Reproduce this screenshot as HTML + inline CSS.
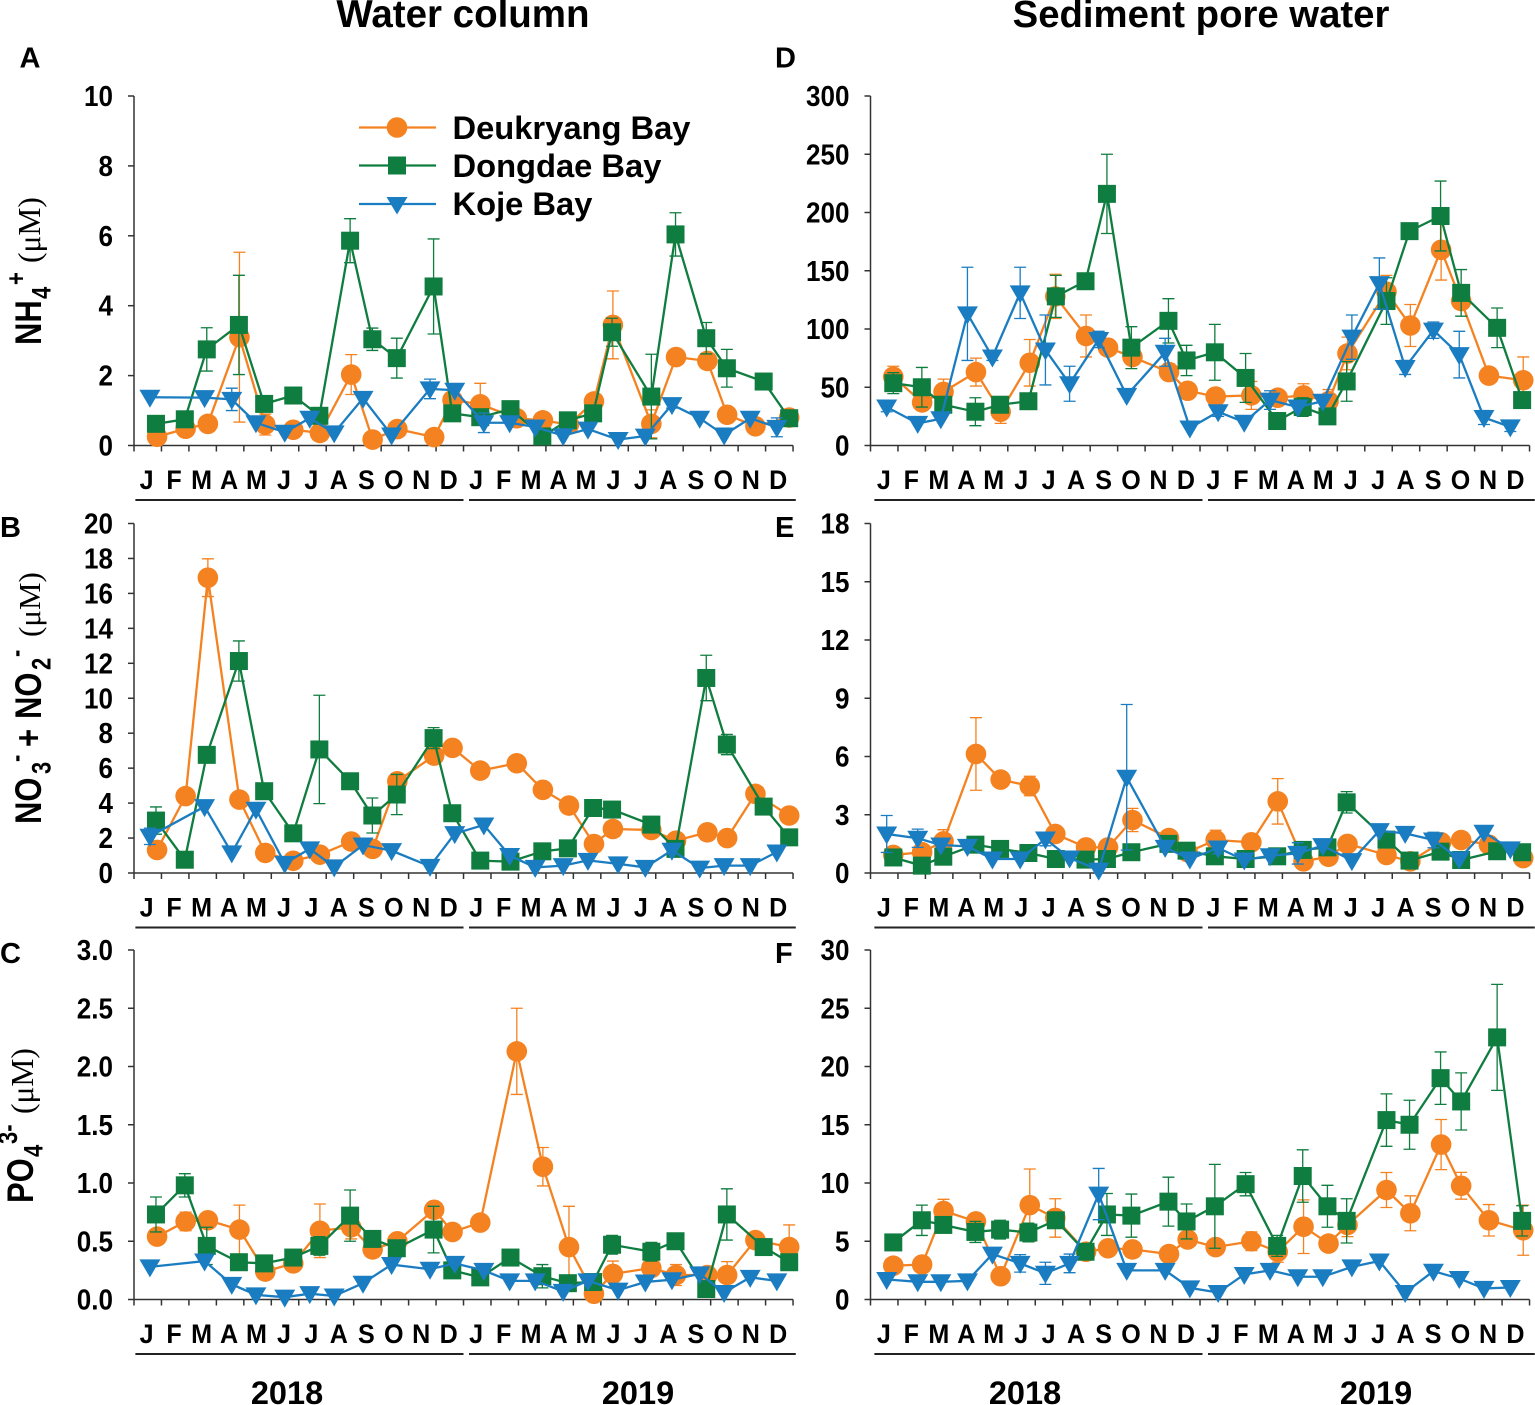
<!DOCTYPE html>
<html lang="en">
<head>
<meta charset="utf-8">
<title>Nutrient concentrations in water column and sediment pore water</title>
<style>
html,body{margin:0;padding:0;background:#fff;}
svg{display:block;font-family:"Liberation Sans",sans-serif;}
.b{font-weight:bold;fill:#000;}
.s{font-family:"Liberation Serif",serif;font-weight:normal;fill:#000;}
</style>
</head>
<body>
<svg id="figure" xmlns="http://www.w3.org/2000/svg" width="1535" height="1405" viewBox="0 0 1535 1405">
  <rect width="1535" height="1405" fill="#fff"/>
  <text class="b" x="463" y="27" font-size="38.500" text-anchor="middle">Water column</text>
  <text class="b" x="1201" y="27" font-size="38.300" text-anchor="middle">Sediment pore water</text>

  <text class="b" x="19.500" y="67.500" font-size="29">A</text>
  <text class="b" x="0" y="537" font-size="29">B</text>
  <text class="b" x="0" y="963" font-size="29">C</text>
  <text class="b" x="775" y="67.500" font-size="29">D</text>
  <text class="b" x="775" y="537" font-size="29">E</text>
  <text class="b" x="775" y="963" font-size="29">F</text>

  <g>
    <text transform="translate(41,345) rotate(-90) scale(1,1.2)" class="b" font-size="31"><tspan>NH</tspan><tspan x="46" y="8" font-size="22">4</tspan><tspan x="60" y="-13.500" font-size="22">+</tspan></text>
    <text transform="translate(40,263) rotate(-90)" class="s" font-size="31.500">(μM)</text>
  </g>
  <g>
    <text transform="translate(41,824) rotate(-90) scale(1,1.2)" class="b" font-size="31"><tspan>NO</tspan><tspan x="50" y="8" font-size="22">3</tspan><tspan x="62" y="-13.500" font-size="22">-</tspan><tspan x="77" y="0">+</tspan><tspan x="105" y="0">NO</tspan><tspan x="154" y="8" font-size="22">2</tspan><tspan x="167" y="-13.500" font-size="22">-</tspan></text>
    <text transform="translate(40,637) rotate(-90)" class="s" font-size="31">(μM)</text>
  </g>
  <g>
    <text transform="translate(33,1203) rotate(-90) scale(1,1.2)" class="b" font-size="31"><tspan>PO</tspan><tspan x="46" y="8" font-size="22">4</tspan><tspan x="59" y="-13.500" font-size="22">3-</tspan></text>
    <text transform="translate(33,1114) rotate(-90)" class="s" font-size="31.500">(μM)</text>
  </g>

  <text class="b" x="287" y="1404" font-size="32.500" text-anchor="middle">2018</text>
  <text class="b" x="638" y="1404" font-size="32.500" text-anchor="middle">2019</text>
  <text class="b" x="1025" y="1404" font-size="32.500" text-anchor="middle">2018</text>
  <text class="b" x="1376" y="1404" font-size="32.500" text-anchor="middle">2019</text>

  <g id="panels"></g>

  <g>
    <g>
      <line x1="359" x2="436" y1="127.500" y2="127.500" stroke="#F58220" stroke-width="2.2"/>
      <circle cx="397" cy="127.500" r="10.300" fill="#F58220"/>
      <text class="b" x="452.500" y="139" font-size="32.700">Deukryang Bay</text>
    </g>
    <g>
      <line x1="359" x2="436" y1="165.500" y2="165.500" stroke="#0F7D3F" stroke-width="2.2"/>
      <rect x="388" y="156.500" width="18" height="18" fill="#0F7D3F"/>
      <text class="b" x="452.500" y="177" font-size="32.700">Dongdae Bay</text>
    </g>
    <g>
      <line x1="359" x2="436" y1="204" y2="204" stroke="#1B7DC1" stroke-width="2.2"/>
      <polygon points="386.500,197 407.500,197 397,214.500" fill="#1B7DC1"/>
      <text class="b" x="452.500" y="215" font-size="32.700">Koje Bay</text>
    </g>
  </g>
</svg>
<script>
// ---- categories and tick labels ----
const monthLabels = ["J","F","M","A","M","J","J","A","S","O","N","D","J","F","M","A","M","J","J","A","S","O","N","D"];
const ticksA = [0,2,4,6,8,10];
const ticksB = [0,2,4,6,8,10,12,14,16,18,20];
const ticksC = ["0.0","0.5","1.0","1.5","2.0","2.5","3.0"];
const ticksD = [0,50,100,150,200,250,300];
const ticksE = [0,3,6,9,12,15,18];
const ticksF = [0,5,10,15,20,25,30];

// ---- sampling times, in months since January 2018 ----
const waterTimeDeukryang = [.84,1.88,2.69,3.84,4.78,5.80,6.77,7.91,8.69,9.59,10.93,11.60,12.61,13.94,14.89,15.84,16.75,17.44,18.84,19.74,20.88,21.60,22.63,23.86];
const waterTimeDongdae = [.80,1.85,2.65,3.82,4.74,5.80,6.75,7.87,8.68,9.57,10.91,11.59,12.61,13.71,14.87,15.80,16.72,17.41,18.84,19.72,20.84,21.59,22.93,23.86];
const waterTimeKoje = [.58,2.57,3.56,4.44,5.49,6.40,7.29,8.34,9.38,10.78,11.68,12.74,13.68,14.61,15.63,16.53,17.63,18.62,19.59,20.60,21.49,22.44,23.41];
const sedimentTimeDeukryang = [.83,1.88,2.66,3.84,4.74,5.80,6.73,7.85,8.65,9.54,10.87,11.55,12.57,13.87,14.83,15.77,16.68,17.37,18.79,19.66,20.78,21.51,22.52,23.77];
const sedimentTimeDongdae = [.83,1.87,2.65,3.82,4.72,5.75,6.75,7.83,8.61,9.50,10.85,11.51,12.54,13.66,14.81,15.74,16.64,17.34,18.79,19.63,20.76,21.51,22.82,23.73];
const sedimentTimeKoje = [.59,1.72,2.56,3.53,4.44,5.45,6.37,7.25,8.31,9.33,10.73,11.63,12.66,13.61,14.55,15.56,16.47,17.53,18.53,19.47,20.50,21.44,22.34,23.30];

// ---- panel A: NH4+ water column ----
const aDeukryang = [.25,.48,.62,3.1,.6,.45,.36,2.03,.17,.47,.24,1.3,1.18,.78,.72,.6,1.26,3.45,.62,2.53,2.42,.88,.55,.8];
const aDeukryangErr = [0,0,0,2.43,.3,0,0,.57,0,0,0,0,.6,0,0,0,0,.97,.4,0,.2,0,0,.2];
const aDongdae = [.62,.75,2.75,3.45,1.19,1.43,.85,5.86,3.04,2.5,4.55,.92,.81,1.04,.26,.72,.92,3.24,1.4,6.04,3.07,2.21,1.83,.78];
const aDongdaeErr = [0,0,.62,1.42,0,0,0,.63,.32,.57,1.36,0,.1,0,0,.2,0,.4,1.21,.62,.45,.54,0,.1];
const aKoje = [1.38,1.37,1.32,.65,.38,.78,.36,1.35,.3,1.62,1.58,.65,.65,.53,.28,.47,.17,.27,1.17,.78,.3,.78,.52];
const aKojeErr = [0,0,.32,0,0,0,0,0,0,.28,0,.28,0,0,0,0,0,0,.1,0,0,0,.27];

// ---- panel B: NO3- + NO2- water column ----
const bDeukryang = [1.32,4.4,16.9,4.2,1.15,.7,1.05,1.8,1.38,5.25,6.72,7.16,5.86,6.28,4.76,3.86,1.66,2.52,2.46,1.85,2.33,2.0,4.53,3.29];
const bDeukryangErr = [0,0,1.08,0,0,0,0,0,0,0,0,0,0,0,0,0,0,0,0,0,0,0,0,0];
const bDongdae = [3.0,.76,6.76,12.13,4.68,2.27,7.07,5.25,3.29,4.49,7.72,3.42,.71,.65,1.24,1.41,3.72,3.63,2.77,1.38,11.16,7.35,3.8,2.04];
const bDongdaeErr = [.78,0,0,1.15,0,0,3.1,0,1.0,1.15,.6,0,0,0,0,0,0,0,0,0,1.3,.58,0,0];
const bKoje = [2.1,3.8,1.15,3.65,.55,1.38,.35,1.6,1.28,.38,2.25,2.75,1.0,.32,.42,.72,.52,.32,1.3,.28,.42,.42,1.2];
const bKojeErr = [.47,0,0,0,0,0,0,0,0,0,0,0,0,0,0,0,0,0,0,0,0,0,0];

// ---- panel C: PO4 3- water column ----
const cDeukryang = [.54,.67,.68,.60,.24,.31,.59,.62,.43,.50,.77,.58,.66,2.13,1.14,.45,.05,.22,.27,.21,.21,.21,.51,.45];
const cDeukryangErr = [.05,.08,0,.21,0,0,.23,.1,0,0,0,0,0,.37,.165,.35,0,.11,0,.09,0,.115,0,.19];
const cDongdae = [.73,.98,.46,.32,.31,.36,.46,.72,.52,.44,.60,.25,.19,.36,.20,.14,.15,.47,.41,.50,.09,.73,.45,.32];
const cDongdaeErr = [.15,.1,.16,0,0,0,.08,.22,0,0,.2,0,0,0,.1,0,0,.08,.08,0,0,.22,0,0];
const cKoje = [.28,.33,.13,.04,.02,.05,.03,.14,.30,.26,.31,.25,.16,.16,.07,.16,.08,.15,.17,.22,.06,.19,.16];
const cKojeErr = [0,0,0,0,0,0,0,0,0,0,0,0,0,0,0,0,0,0,0,0,0,0,0];

// ---- panel D: NH4+ pore water ----
const dDeukryang = [59,37,46,63,29,71,128,94,84,76,63,47,42,43,41,43,38,79,132,103,168,124,60,56];
const dDeukryangErr = [9,3,11,12,10,20,19,18,0,0,7,0,0,12,0,10,10,14,14,18,26,0,0,20];
const dDongdae = [53.5,50,35,29,35,38,128,141,216,84,107,73,80,58,21,33,25,55,124,184,197,131,101,39];
const dDongdaeErr = [9,17,0,12,0,0,18,0,34,18,19,13,24,21,0,8,0,17,20,0,30,20,17,0];
const dKoje = [33,19,23,113,76,131,82,53,91,43,80,15,29,20,39,33,38,93,139,67,99,78,24,16];
const dKojeErr = [4,0,0,40,3,22,30,15,7,0,12,0,4,0,8,0,0,19,22,6,7,20,6,4];

// ---- panel E: NO3- + NO2- pore water ----
const eDeukryang = [.93,1.07,1.63,6.13,4.81,4.48,2.01,1.32,1.32,2.73,1.8,1.07,1.7,1.58,3.69,.6,.84,1.5,.93,.6,1.58,1.7,1.46,.77];
const eDeukryangErr = [0,0,.6,1.87,0,.5,0,0,0,.6,0,0,.5,0,1.17,0,0,0,0,0,0,0,0,0];
const eDongdae = [.8,.38,.84,1.46,1.24,1.03,.72,.69,.72,1.07,1.5,1.15,.86,.72,.86,1.19,1.32,3.64,1.72,.64,1.1,.67,1.12,1.07];
const eDongdaeErr = [0,0,0,0,0,0,0,0,0,0,0,0,0,0,0,0,0,.55,0,0,0,0,0,0];
const eKoje = [2.01,1.79,1.44,1.37,.72,.72,1.75,.77,.15,4.93,1.32,.72,1.29,.67,.89,1.01,1.41,.64,2.18,2.04,1.7,.72,2.1,1.24];
const eKojeErr = [.95,.47,0,0,0,0,.35,0,0,3.75,0,0,.3,0,0,.55,0,0,0,0,.4,0,0,0];

// ---- panel F: PO4 3- pore water ----
const fDeukryang = [2.9,3.0,7.6,6.7,2.0,8.1,7.0,4.1,4.4,4.3,3.9,5.15,4.5,5.0,4.1,6.25,4.8,6.4,9.4,7.4,13.3,9.76,6.8,5.95];
const fDeukryangErr = [0,0,1.0,.2,0,3.1,1.65,0,0,0,0,0,0,.8,.9,2.3,0,1.0,1.5,1.5,2.15,1.15,1.35,2.15];
const fDongdae = [4.9,6.8,6.4,5.8,6.0,5.75,6.8,4.1,7.3,7.2,8.4,6.7,8.0,9.9,4.6,10.6,8.0,6.75,15.4,15.0,19.0,17.0,22.5,6.75];
const fDongdaeErr = [0,1.3,0,.9,.8,.8,0,0,1.8,1.85,2.1,1.5,3.6,1.0,.9,2.25,1.8,1.9,2.25,2.1,2.25,2.45,4.55,1.3];
const fKoje = [1.72,1.52,1.52,1.6,3.9,3.1,2.25,3.1,9.05,2.5,2.5,1.0,.6,2.15,2.5,1.95,1.95,2.8,3.3,.6,2.43,1.8,.95,1.03];
const fKojeErr = [0,0,0,0,0,.75,.95,.8,2.2,0,0,0,0,0,0,0,0,0,0,0,0,0,0,0];

const orange = "#F58220";
const green = "#0F7D3F";
const blue = "#1B7DC1";
const axisColor = "#333333";
const NS = "http://www.w3.org/2000/svg";
const root = document.getElementById("panels");

function make(tag, attrs, parent) {
  const el = document.createElementNS(NS, tag);
  for (const k in attrs) el.setAttribute(k, attrs[k]);
  parent.appendChild(el);
  return el;
}

function drawSeries(g, name, color, kind, times, values, errs, xOf, yOf) {
  const group = make("g", {}, g);
  
  
  values.forEach(function (v, i) {
    const e = errs[i];
    if (!e) return;
    const x = xOf(times[i]);
    const bar = make("path", {
      d: "M" + x + " " + yOf(v + e) + "V" + yOf(Math.max(v - e, 0)) +
         "M" + (x - 6) + " " + yOf(v + e) + "h12" +
         "M" + (x - 6) + " " + yOf(Math.max(v - e, 0)) + "h12",
      stroke: color, "stroke-width": 1.3, fill: "none"
    }, group);
    
    
  });
  const linePts = values.map(function (v, i) { return xOf(times[i]) + "," + yOf(v); }).join(" ");
  const line = make("polyline", { points: linePts, fill: "none", stroke: color, "stroke-width": 2.3 }, group);
  
  
  values.forEach(function (v, i) {
    const x = xOf(times[i]), y = yOf(v);
    let m;
    if (kind === "circle") m = make("circle", { cx: x, cy: y, r: 10.3, fill: color }, group);
    else if (kind === "square") m = make("rect", { x: x - 9, y: y - 9, width: 18, height: 18, fill: color }, group);
    else m = make("polygon", { points: (x - 10.5) + "," + (y - 7.5) + " " + (x + 10.5) + "," + (y - 7.5) + " " + x + "," + (y + 10.5), fill: color }, group);
    
    
  });
}

function drawPanel(p) {
  const g = make("g", {}, root);
  
  
  const monthW = 27.46;
  const xOf = function (t) { return p.x0 + t * monthW; };
  const maxV = parseFloat(p.ticks[p.ticks.length - 1]);
  const yOf = function (v) { return p.y0 - (v / maxV) * (p.y0 - p.yTop); };

  const axisY = make("line", { x1: p.x0, x2: p.x0, y1: p.yTop, y2: p.y0, stroke: axisColor, "stroke-width": 1.5 }, g);
  
  
  const axisX = make("line", { x1: p.x0, x2: xOf(24), y1: p.y0, y2: p.y0, stroke: axisColor, "stroke-width": 1.5 }, g);
  
  

  p.ticks.forEach(function (t) {
    const y = yOf(parseFloat(t));
    const tick = make("line", { x1: p.x0 - 6, x2: p.x0, y1: y, y2: y, stroke: axisColor, "stroke-width": 1.5 }, g);
    
    
    const lab = make("text", { transform: "translate(" + (p.x0 - 21) + "," + (y + 10) + ") scale(.92,1)", "text-anchor": "end", "font-size": 28.3, class: "b" }, g);
    
    
    lab.textContent = t;
  });

  for (let i = 0; i <= 24; i++) {
    const tick = make("line", { x1: xOf(i), x2: xOf(i), y1: p.y0, y2: p.y0 + 6, stroke: axisColor, "stroke-width": 1.5 }, g);
    
    
  }
  monthLabels.forEach(function (m, i) {
    const lab = make("text", { transform: "translate(" + (xOf(i + 0.46) + p.ruleShift * 0.3) + "," + (p.y0 + 43.5) + ") scale(.93,1)", "text-anchor": "middle", "font-size": 27, class: "b" }, g);
    
    
    lab.textContent = m;
  });

  const under = [[0.05, 12], [12.2, 24.1]];
  under.forEach(function (u) {
    const rule = make("line", { x1: xOf(u[0]) + p.ruleShift, x2: xOf(u[1]) + p.ruleShift, y1: p.y0 + 54.5, y2: p.y0 + 54.5, stroke: "#222", "stroke-width": 2 }, g);
    
    
  });

  drawSeries(g, "series-deukryang", orange, "circle", p.tO, p.o, p.oe, xOf, yOf);
  drawSeries(g, "series-dongdae", green, "square", p.tG, p.g, p.ge, xOf, yOf);
  drawSeries(g, "series-koje", blue, "tri", p.tK, p.k, p.ke, xOf, yOf);
}

const waterX = 134, sedimentX = 870.5;
drawPanel({ name: "panel-a-ammonium-water", x0: waterX, ruleShift: 0, y0: 445.5, yTop: 96, ticks: ticksA, tO: waterTimeDeukryang, tG: waterTimeDongdae, tK: waterTimeKoje, o: aDeukryang, oe: aDeukryangErr, g: aDongdae, ge: aDongdaeErr, k: aKoje, ke: aKojeErr });
drawPanel({ name: "panel-b-nitrate-water", x0: waterX, ruleShift: 0, y0: 873, yTop: 523.5, ticks: ticksB, tO: waterTimeDeukryang, tG: waterTimeDongdae, tK: waterTimeKoje, o: bDeukryang, oe: bDeukryangErr, g: bDongdae, ge: bDongdaeErr, k: bKoje, ke: bKojeErr });
drawPanel({ name: "panel-c-phosphate-water", x0: waterX, ruleShift: 0, y0: 1299.5, yTop: 950, ticks: ticksC, tO: waterTimeDeukryang, tG: waterTimeDongdae, tK: waterTimeKoje, o: cDeukryang, oe: cDeukryangErr, g: cDongdae, ge: cDongdaeErr, k: cKoje, ke: cKojeErr });
drawPanel({ name: "panel-d-ammonium-sediment", x0: sedimentX, ruleShift: 2.5, y0: 445.5, yTop: 96, ticks: ticksD, tO: sedimentTimeDeukryang, tG: sedimentTimeDongdae, tK: sedimentTimeKoje, o: dDeukryang, oe: dDeukryangErr, g: dDongdae, ge: dDongdaeErr, k: dKoje, ke: dKojeErr });
drawPanel({ name: "panel-e-nitrate-sediment", x0: sedimentX, ruleShift: 2.5, y0: 873, yTop: 523.5, ticks: ticksE, tO: sedimentTimeDeukryang, tG: sedimentTimeDongdae, tK: sedimentTimeKoje, o: eDeukryang, oe: eDeukryangErr, g: eDongdae, ge: eDongdaeErr, k: eKoje, ke: eKojeErr });
drawPanel({ name: "panel-f-phosphate-sediment", x0: sedimentX, ruleShift: 2.5, y0: 1299.5, yTop: 950, ticks: ticksF, tO: sedimentTimeDeukryang, tG: sedimentTimeDongdae, tK: sedimentTimeKoje, o: fDeukryang, oe: fDeukryangErr, g: fDongdae, ge: fDongdaeErr, k: fKoje, ke: fKojeErr });
</script>
</body>
</html>
